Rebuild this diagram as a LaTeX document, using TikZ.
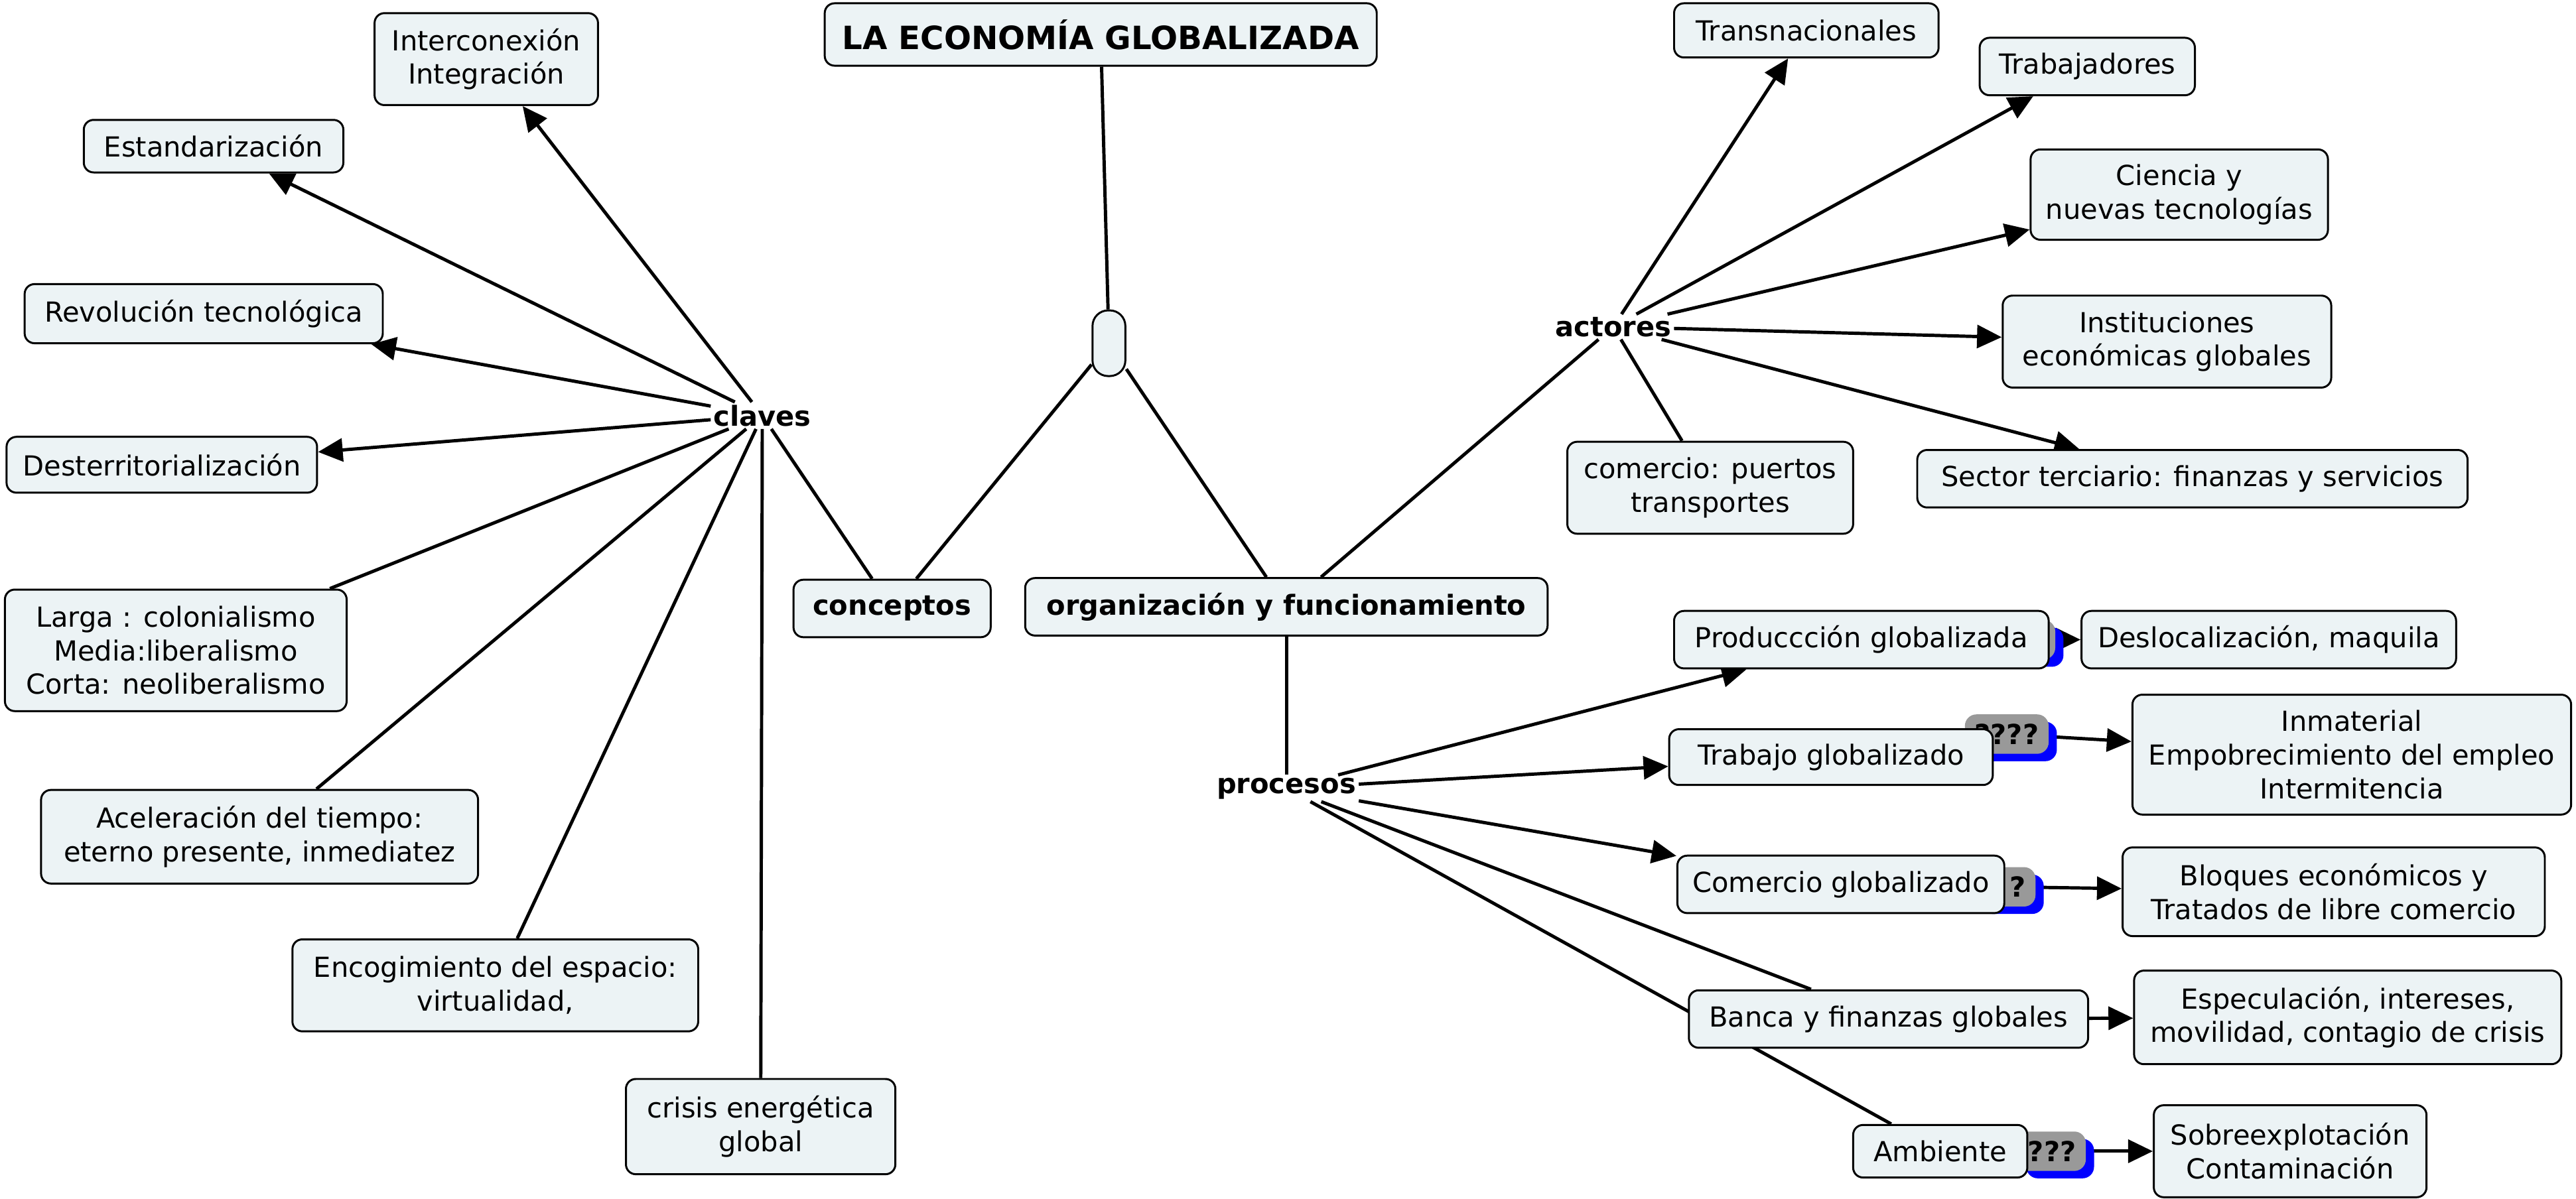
\documentclass[tikz,border=0pt]{standalone}
\usepackage{fontspec}
\setmainfont{DejaVu Sans}
\usetikzlibrary{arrows.meta,shadows}
\definecolor{boxfill}{RGB}{236,243,245}
\definecolor{badgegray}{RGB}{153,153,153}
\pgfdeclarelayer{bg}
\pgfsetlayers{bg,main}
\begin{document}
\begin{tikzpicture}[x=1pt,y=-1pt,
  txt/.style={font=\fontsize{16.8}{20.5}\selectfont},
  box/.style={txt, draw, line width=1.2pt, fill=boxfill, rounded corners=6pt, align=center, inner sep=2pt},
  wh/.style 2 args={minimum width=#1pt, minimum height=#2pt},
  lbl/.style={font=\fontsize{16.8}{20.5}\selectfont\bfseries, inner sep=1.5pt},
  conn/.style={line width=2pt},
  arr/.style={conn, -{Triangle[length=15pt,width=14pt]}},
  badge/.style={font=\fontsize{16.8}{20.5}\selectfont\bfseries, fill=badgegray, rounded corners=7pt,
    inner xsep=6pt, inner ysep=0pt, minimum height=24pt,
    drop shadow={shadow xshift=5pt, shadow yshift=-4.5pt, fill=blue, opacity=1}}]
\useasboundingbox (0,0) rectangle (1568,730);

% badges (behind boxes)
\node[badge, minimum width=38pt] (bprod) at (1232,389.5) {};
\node[badge] (btrab) at (1221.5,447) {????};
\node[badge, text width=26pt, align=right] (bcom) at (1220,540) {?};
\node[badge] (bamb) at (1249,701) {???};

% central
\node[box, wh={336}{38}, font=\fontsize{19.5}{22}\selectfont\bfseries] (title) at (670,21) {LA ECONOMÍA GLOBALIZADA};
\node[draw, line width=1.2pt, fill=boxfill, rounded corners=9.5pt, wh={20}{40}, inner sep=0pt] (hub) at (675,209) {};
\node[box, wh={120}{35}, font=\fontsize{16.8}{20.5}\selectfont\bfseries] (conceptos) at (543,370.5) {conceptos};
\node[box, wh={318}{35}, font=\fontsize{16.8}{20.5}\selectfont\bfseries] (org) at (783,369.5) {organización y funcionamiento};
\node[lbl] (claves) at (464,253) {claves};
\node[lbl] (actores) at (982,199) {actores};
\node[lbl] (procesos) at (783,480) {procesos};

% claves children
\node[box, wh={136}{56}] (inter) at (296,36) {Interconexión\\Integración};
\node[box, wh={158}{32}] (estand) at (130,89) {Estandarización};
\node[box, wh={218}{36}] (revol) at (124,191) {Revolución tecnológica};
\node[box, wh={189}{34}] (desterr) at (98.5,283) {Desterritorialización};
\node[box, wh={208}{74}] (larga) at (107,396) {Larga : colonialismo\\Media:liberalismo\\Corta: neoliberalismo};
\node[box, wh={266}{57}] (acel) at (158,509.5) {Aceleración del tiempo:\\eterno presente, inmediatez};
\node[box, wh={247}{56}] (encog) at (301.5,600) {Encogimiento del espacio:\\virtualidad,};
\node[box, wh={164}{58}] (crisis) at (463,686) {crisis energética\\global};

% actores children
\node[box, wh={161}{33}] (trans) at (1099.5,18.5) {Transnacionales};
\node[box, wh={131}{35}] (trabaj) at (1270.5,40.5) {Trabajadores};
\node[box, wh={181}{55}] (ciencia) at (1326.5,118.5) {Ciencia y\\nuevas tecnologías};
\node[box, wh={200}{56}] (instit) at (1319,208) {Instituciones\\económicas globales};
\node[box, wh={335}{35}] (sector) at (1334.5,291.5) {Sector terciario: finanzas y servicios};
\node[box, wh={174}{56}] (comP) at (1041,297) {comercio: puertos\\transportes};

% procesos children
\node[box, wh={228}{35}] (prod) at (1133,389.5) {Produccción globalizada};
\node[box, wh={197}{34}] (trabajo) at (1114.5,461) {Trabajo globalizado};
\node[box, wh={199}{35}] (comercio) at (1120.5,538.5) {Comercio globalizado};
\node[box, wh={243}{35}] (banca) at (1149.5,620.5) {Banca y finanzas globales};
\node[box, wh={106}{32}] (amb) at (1181,701) {Ambiente};

% last column
\node[box, wh={228}{35}] (desloc) at (1381,389.5) {Deslocalización, maquila};
\node[box, wh={267}{73}] (inmat) at (1431.5,459.5) {Inmaterial\\Empobrecimiento del empleo\\Intermitencia};
\node[box, wh={257}{54}] (bloques) at (1420.5,543) {Bloques económicos y\\Tratados de libre comercio};
\node[box, wh={260}{57}] (espec) at (1429,619.5) {Especulación, intereses,\\movilidad, contagio de crisis};
\node[box, wh={166}{56}] (sobre) at (1394,701) {Sobreexplotación\\Contaminación};

\begin{pgfonlayer}{bg}
\draw[conn] (title) -- (hub);
\draw[conn] (hub) -- (conceptos);
\draw[conn] (hub) -- (org);
\draw[conn] (conceptos) -- (claves);
\draw[conn] (org) -- (actores);
\draw[conn] (org) -- (procesos);

\draw[arr] (claves) -- (inter);
\draw[arr] (claves) -- (estand);
\draw[arr] (claves) -- (revol);
\draw[arr] (claves) -- (desterr);
\draw[conn] (claves) -- (larga);
\draw[conn] (claves) -- (acel);
\draw[conn] (claves) -- (encog);
\draw[conn] (claves) -- (crisis);

\draw[arr] (actores) -- (trans);
\draw[arr] (actores) -- (trabaj);
\draw[arr] (actores) -- (ciencia);
\draw[arr] (actores) -- (instit);
\draw[arr] (actores) -- (sector);
\draw[conn] (actores) -- (comP);

\draw[arr] (procesos) -- (prod);
\draw[arr] (procesos) -- (trabajo);
\draw[arr] (procesos) -- (comercio);
\draw[conn] (procesos) -- (banca);
\draw[conn] (procesos) -- (amb);

\draw[arr] (bprod) -- (desloc);
\draw[arr] (btrab) -- (inmat);
\draw[arr] (bcom) -- (bloques);
\draw[arr] (banca) -- (espec);
\draw[arr] (bamb) -- (sobre);
\end{pgfonlayer}
\end{tikzpicture}
\end{document}
